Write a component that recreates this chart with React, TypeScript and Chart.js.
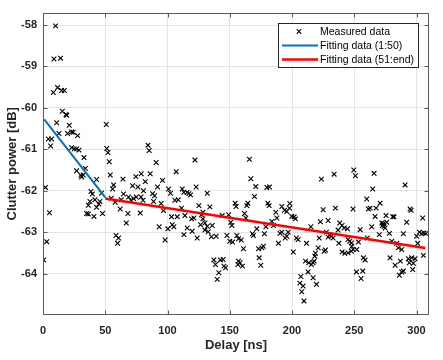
import React, { useEffect, useRef } from 'react';
import { Chart, registerables } from 'chart.js';

Chart.register(...registerables);

// Measured clutter power samples: delay [ns] and power [dB]
const measuredDelay = [
  0.5, 2, 3, 4.3, 5.2, 6.1, 6.9, 8.3, 8.8, 10.1, 11, 11.7, 12.8, 14.1, 14.9, 15.5, 17.1, 18.5, 19, 19.7,
  21.1, 23, 23, 24.3, 25.1, 27, 27, 27.8, 28.9, 30.5, 31, 32.3, 32.9, 34, 35, 36.4, 36.4, 37.7, 38.5, 39.6,
  40.9, 41.7, 43, 43, 44.9, 45.7, 47, 47.8, 50.8, 51.2, 52.2, 53.2,
  54, 54.8, 55.9, 56.7, 58, 58.6, 59.9, 60.7, 62, 62.8, 64.2, 64.7, 66.9, 68.2, 68.7, 70.6, 71.9, 72.7,
  74.6, 74.9, 76.2, 78.1, 78.7, 78.9, 80.3, 80.7, 82.1, 84.3, 85.3, 86.1, 88, 88.8, 89.6, 90.9, 92, 93.3,
  94.9, 96, 96.8, 98.1, 100.3, 100.8,
  102.4, 103.2, 103.8, 105.1, 105.9, 107, 107.8, 108.6, 111.2, 111.8, 113.1, 113.2, 114, 115.8, 115.8, 117.2,
  118.5, 119.3, 119.8, 121.2, 122, 123, 123.8, 125.2, 126.5, 127.3, 128.4, 128.4, 130, 130, 131.9, 131.9,
  132.7, 134, 135.3, 135.9, 137.2, 138.5, 139.1, 139.9, 141.2, 142.5, 143.9, 144.7, 145.3, 146.6, 147.7,
  149.1, 150, 150.8, 151.7, 152.2,
  154.3, 155.1, 155.7, 156.5, 157, 157, 158.3, 159.2, 160.2, 161, 161.8, 162.9, 163.7, 164.5, 165.8, 166.9,
  168.2, 169, 169.8, 170.9, 171.7, 173.1, 173.6, 174.9, 175.8, 177, 177.8, 179, 179.8, 180.6, 181.6, 181.9,
  183.8, 185.1, 187, 187.8, 189.1, 190.4, 191.8, 191.8, 194, 194.5, 195.8, 195.8, 196.9, 198, 198.2, 199.8,
  201, 201.7, 202.7, 203.5, 204.9, 206.3, 207.1, 207.8, 208.9, 209.6, 210.8, 211.6, 212.9, 213.5, 215.1,
  215.6, 216.9, 216.9, 217.7, 218.3, 218.8, 219.6, 221, 221.8, 222.8, 223.6, 225, 225.8, 226.9, 227.6, 229,
  229, 230.3, 231.6, 233, 233.8, 234.8, 237, 237.6, 238.3, 240.2, 240.2, 241.8, 242.4, 244.5, 245, 245,
  246.4, 247.7, 247.7, 248, 249, 249, 249.6, 250.9, 251.7, 252, 253.3, 254.7, 255.4, 256.8, 257.3, 258.7,
  260, 260.5, 261.3, 262.7, 264, 264.8, 265.9, 266.7, 267.5, 270.1, 270.7, 272.1, 272.6, 273.4, 273.9,
  274.7, 275.5, 276.1, 278.2, 278.7, 280.1, 280.9, 281.9, 282.8, 284.1, 285.4, 286.2, 287, 288.1, 288.1,
  289.4, 289.4, 290.8, 292.1, 293.5, 294.2, 294.8, 295.6, 296.1, 296.9, 297.4, 298.8, 300.1, 300.9, 302.3,
  304.2, 304.9, 305.5, 306, 307.6,
];
const measuredPower = [
  -63.67, -61.92, -63.23, -60.75, -62.53, -60.92, -60.75, -59.63, -58.82, -58.02, -60.36, -59.51, -60.62, -58.8, -59.58, -60.08, -59.58, -60.16, -60.18, -60.62,
  -60.42, -60.58, -60.96, -60.59, -60.99, -60.99, -61.52, -60.67, -61.02, -61.63, -61.67, -61.62, -61.2, -61.46, -62.55, -62.56, -62.35, -62.26, -62.02, -62.08,
  -62.62, -62.22, -61.73, -62.4, -62.32, -62.26, -62.06, -62.55, -60.4, -60.98, -61.08, -61.3,
  -61.62, -62.18, -61.96, -61.86, -62.28, -63.08, -63.27, -63.14, -62.44, -62.22, -61.72, -62.08, -62.78, -62.55, -62.15, -62.23, -61.88, -62.19,
  -61.66, -62.15, -61.91, -62.54, -62.15, -61.59, -62.23, -62.0, -61.78, -60.9, -61.03, -61.59, -62.07, -62.26, -62.12, -61.32, -61.91, -62.87,
  -62.31, -61.75, -62.48, -63.19, -62.92, -61.96,
  -62.06, -62.63, -62.82, -62.87, -62.23, -61.54, -62.63, -62.22, -62.42, -61.96, -62.04, -63.06, -62.6, -62.04, -62.9, -62.07,
  -62.1, -62.68, -62.98, -62.66, -61.26, -61.91, -63.14, -62.36, -62.82, -62.58, -62.52, -62.68, -62.78, -62.95, -62.06, -62.86,
  -62.99, -62.39, -63.11, -62.84, -63.67, -63.78, -63.1, -64.14, -63.98, -63.67, -62.6, -63.66, -63.82, -63.86, -63.08,
  -62.58, -63.22, -62.76, -62.84, -63.24,
  -62.3, -62.38, -63.08, -63.78, -63.16, -63.7, -63.74, -63.19, -63.82, -63.4, -62.55, -62.66, -62.36, -62.3, -61.24, -61.71,
  -63.04, -63.08, -62.14, -61.9, -62.92, -63.4, -63.62, -63.8, -63.38, -63.34, -63.04, -62.87, -61.92, -62.3, -62.36, -61.91,
  -62.74, -62.84, -62.52, -62.66, -63.27, -63.03, -62.38, -63.0, -62.47, -63.14, -62.5, -63.1, -63.0, -62.42, -62.31, -62.62,
  -63.48, -62.63, -62.68, -63.14, -63.18, -64.23, -64.07, -64.44, -64.3, -64.66, -63.7, -63.27, -63.96, -63.74, -62.87,
  -63.78, -63.74, -64.1, -63.7, -63.58, -63.51, -64.26, -63.38, -63.14, -62.75, -61.72, -62.46, -63.46, -63.43, -63.0, -62.72,
  -63.12, -63.06, -63.1, -63.14, -61.6, -62.42, -62.95, -63.27, -62.78, -62.84, -63.48, -62.9, -63.51, -62.92, -63.18, -63.5,
  -63.22, -63.26, -63.46, -63.34, -62.44, -63.42, -61.5, -61.64, -63.96, -63.42, -63.24, -62.94, -64.12, -63.94, -63.62, -63.67,
  -62.2, -63.14, -62.44, -62.42, -62.87, -61.96, -61.58, -62.62, -62.42, -63.06, -62.3, -62.78, -62.84, -62.79, -62.86,
  -62.9, -62.6, -62.76, -63.03, -63.62, -63.22, -62.63, -62.63, -63.8, -63.27, -63.38, -64.04, -63.7, -63.42, -63.96,
  -63.04, -63.94, -61.86, -62.76, -63.64, -63.74, -62.44, -62.47, -63.62, -63.9, -63.75, -63.64, -63.1, -63.27, -63.0,
  -63.04, -62.66, -63.56, -63.02, -63.03,
];

// Linear fits
const fit1Delay = [1, 50];
const fit1Power = [-60.28, -62.16];
const fit2Delay = [50, 307];
const fit2Power = [-62.19, -63.38];

const xTicks = [0, 50, 100, 150, 200, 250, 300];
const yTicks = [-64, -63, -62, -61, -60, -59, -58];
const seriesLabels = ['Measured data', 'Fitting data (1:50)', 'Fitting data (51:end)'];
const seriesColors = ['#000000', '#0072BD', '#FF0000'];

const FONT = '"Liberation Sans", Arial, Helvetica, sans-serif';

const boxPlugin = {
  id: 'boxPlugin',
  afterDatasetsDraw(chart: any) {
    const { ctx, chartArea, scales } = chart;
    const { left, right, top, bottom } = chartArea;
    ctx.save();
    ctx.strokeStyle = '#5a5a5a';
    ctx.lineWidth = 1;
    const L = Math.round(left) + 0.5, R = Math.round(right) - 0.5;
    const T = Math.round(top) + 0.5, B = Math.round(bottom) - 0.5;
    ctx.strokeRect(L, T, R - L, B - T);
    const tl = 4;
    ctx.beginPath();
    xTicks.forEach((v) => {
      const px = Math.round(scales.x.getPixelForValue(v)) + 0.5;
      ctx.moveTo(px, B); ctx.lineTo(px, B - tl);
      ctx.moveTo(px, T); ctx.lineTo(px, T + tl);
    });
    yTicks.forEach((v) => {
      const py = Math.round(scales.y.getPixelForValue(v)) + 0.5;
      ctx.moveTo(L, py); ctx.lineTo(L + tl, py);
      ctx.moveTo(R, py); ctx.lineTo(R - tl, py);
    });
    ctx.stroke();
    ctx.restore();
  },
};

const legendPlugin = {
  id: 'boxLegend',
  afterDraw(chart: any) {
    const { ctx, chartArea } = chart;
    const w = 141, h = 45;
    const x0 = Math.round(chartArea.right - 10 - w);
    const y0 = Math.round(chartArea.top + 10);
    ctx.save();
    ctx.fillStyle = '#ffffff';
    ctx.fillRect(x0, y0, w, h);
    ctx.strokeStyle = '#262626';
    ctx.lineWidth = 1;
    ctx.strokeRect(x0 + 0.5, y0 + 0.5, w - 1, h - 1);
    ctx.font = `10.5px ${FONT}`;
    ctx.textBaseline = 'middle';
    ctx.textAlign = 'left';
    ctx.fillStyle = '#000000';
    const rows = [y0 + 8.5, y0 + 22.5, y0 + 36.5];
    const mx = x0 + 21, my = rows[0];
    ctx.strokeStyle = seriesColors[0];
    ctx.lineWidth = 1.1;
    ctx.beginPath();
    ctx.moveTo(mx - 2.3, my - 2.3); ctx.lineTo(mx + 2.3, my + 2.3);
    ctx.moveTo(mx - 2.3, my + 2.3); ctx.lineTo(mx + 2.3, my - 2.3);
    ctx.stroke();
    [1, 2].forEach((i) => {
      ctx.strokeStyle = seriesColors[i];
      ctx.lineWidth = i === 1 ? 2 : 2.5;
      ctx.beginPath();
      ctx.moveTo(x0 + 4, rows[i]);
      ctx.lineTo(x0 + 40, rows[i]);
      ctx.stroke();
    });
    seriesLabels.forEach((t, i) => {
      ctx.fillText(t, x0 + 42, rows[i] + 0.5);
    });
    ctx.restore();
  },
};

export default function App() {
  const ref = useRef<HTMLCanvasElement>(null);
  useEffect(() => {
    if (!ref.current) return;
    const chart = new Chart(ref.current, {
      type: 'scatter',
      data: {
        datasets: [
          {
            type: 'scatter',
            label: seriesLabels[0],
            data: measuredDelay.map((x, i) => ({ x, y: measuredPower[i] })),
            pointStyle: 'crossRot',
            pointRadius: 3.3,
            borderColor: seriesColors[0],
            backgroundColor: seriesColors[0],
            borderWidth: 1.1,
            order: 3,
          } as any,
          {
            type: 'line',
            label: seriesLabels[1],
            data: fit1Delay.map((x, i) => ({ x, y: fit1Power[i] })),
            borderColor: seriesColors[1],
            borderWidth: 2,
            pointRadius: 0,
            fill: false,
            order: 2,
          } as any,
          {
            type: 'line',
            label: seriesLabels[2],
            data: fit2Delay.map((x, i) => ({ x, y: fit2Power[i] })),
            borderColor: seriesColors[2],
            borderWidth: 2.5,
            pointRadius: 0,
            fill: false,
            order: 1,
          } as any,
        ],
      },
      options: {
        responsive: false,
        animation: false,
        devicePixelRatio: 1,
        layout: { padding: { top: 11, right: 14, bottom: 0, left: 0 } },
        plugins: {
          legend: { display: false },
          tooltip: { enabled: false },
        },
        scales: {
          x: {
            type: 'linear',
            min: 0,
            max: 310,
            afterBuildTicks: (s: any) => { s.ticks = xTicks.map((v) => ({ value: v })); },
            afterFit: (s: any) => { s.height = 45; },
            grid: { color: '#e4e4e4', lineWidth: 1, drawTicks: false },
            border: { display: false },
            ticks: {
              padding: 9,
              maxRotation: 0,
              color: '#262626',
              font: { family: FONT, size: 11, weight: 'bold' },
              callback: (v: any) => String(v),
            },
            title: {
              display: true,
              text: 'Delay [ns]',
              color: '#262626',
              font: { family: FONT, size: 13, weight: 'bold' },
              padding: { top: 0, bottom: 7 },
            },
          },
          y: {
            type: 'linear',
            min: -65,
            max: -57.7,
            afterBuildTicks: (s: any) => { s.ticks = yTicks.map((v) => ({ value: v })); },
            afterFit: (s: any) => { s.width = 43; },
            grid: { color: '#e4e4e4', lineWidth: 1, drawTicks: false },
            border: { display: false },
            ticks: {
              padding: 6,
              color: '#262626',
              font: { family: FONT, size: 11, weight: 'bold' },
              callback: (v: any) => String(v),
            },
            title: {
              display: true,
              text: 'Clutter power [dB]',
              color: '#262626',
              font: { family: FONT, size: 13, weight: 'bold' },
              padding: { top: 5, bottom: 0 },
            },
          },
        },
      } as any,
      plugins: [boxPlugin, legendPlugin],
    });
    return () => chart.destroy();
  }, []);
  return (
    <div style={{ position: 'absolute', left: 0, top: 0, width: 443, height: 360, background: '#fff' }}>
      <canvas ref={ref} width={443} height={360} />
    </div>
  );
}
